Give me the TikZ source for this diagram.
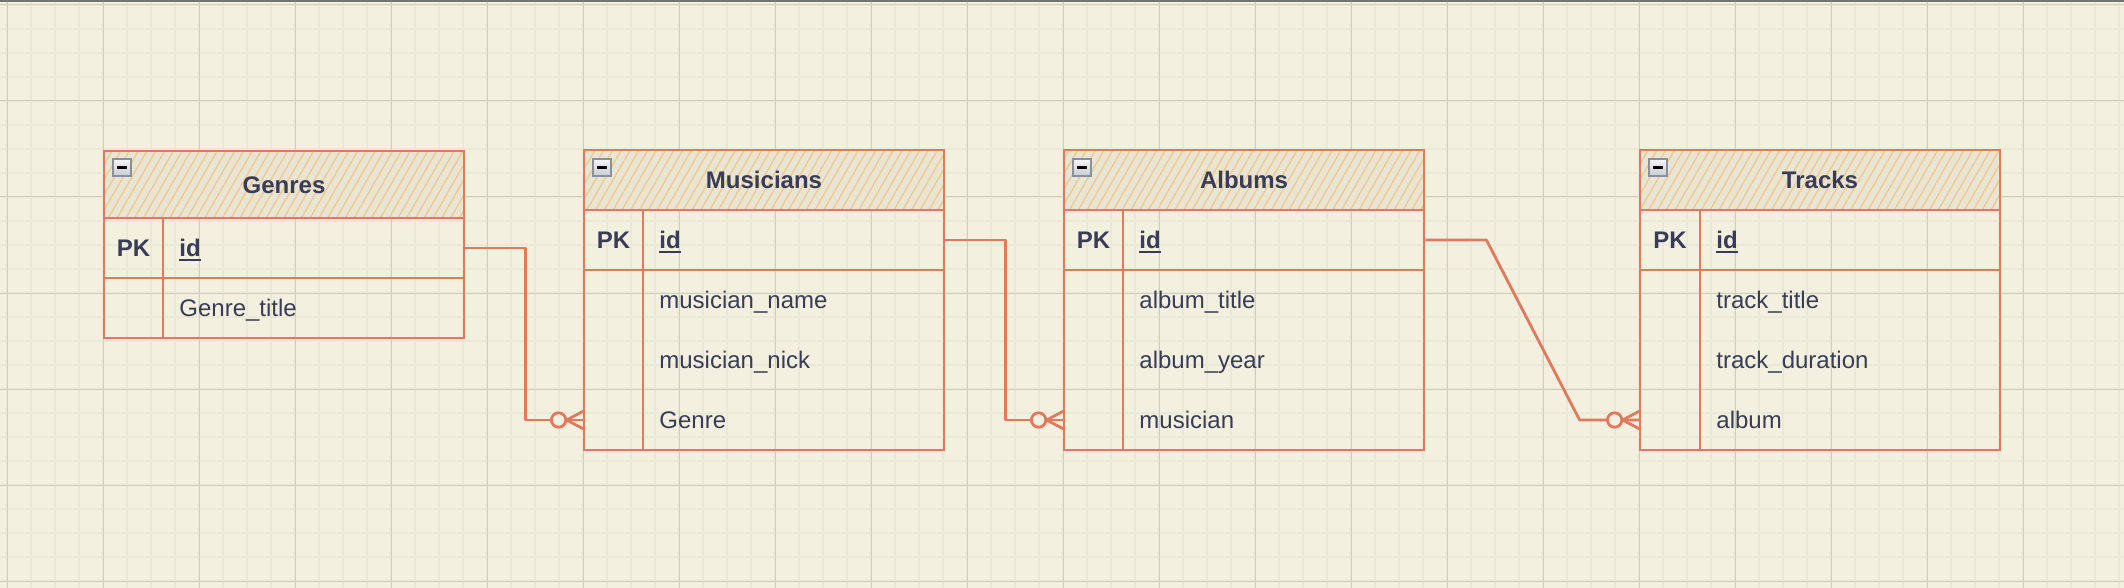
\documentclass[tikz,border=0pt]{standalone}
\usepackage{fontspec}
\setmainfont{Liberation Sans}
\usetikzlibrary{patterns.meta,calc}
\definecolor{bgc}{HTML}{F3F0E0}
\definecolor{gminor}{HTML}{EAE8D6}
\definecolor{gmajor}{HTML}{D2CEBE}
\definecolor{ecol}{HTML}{E07A5F}
\definecolor{hatch}{HTML}{F0C98A}
\definecolor{hdrfill}{HTML}{E8E5D5}
\definecolor{txt}{HTML}{393C56}
\definecolor{topbar}{HTML}{73766F}
\definecolor{iconb}{HTML}{8A8F9E}
\newcommand\ulid[1]{\setbox0\hbox{#1}\rlap{\rule[-2.2pt]{\wd0}{1pt}}\box0}
\newcommand\crowfoot[1]{%
  \draw[conn] ($(#1.west)+(-17,0)$) -- ($(#1.west)+(0,-9)$);
  \draw[conn] ($(#1.west)+(-17,0)$) -- (#1.west);
  \draw[conn] ($(#1.west)+(-17,0)$) -- ($(#1.west)+(0,9)$);
  \draw[conn,fill=bgc] ($(#1.west)+(-25,0)$) circle[radius=3.6pt];}
\begin{document}
\begin{tikzpicture}[x=0.5pt,y=-0.5pt,
  font=\fontsize{12}{14}\selectfont,
  hdr/.style={preaction={fill=hdrfill},
    preaction={pattern={Lines[angle=60,distance=3.8pt,line width=0.65pt]},pattern color=hatch},
    draw=ecol, line width=1.4pt, minimum width=180pt, inner sep=0pt},
  rowbox/.style={draw=ecol, line width=1.4pt, minimum width=180pt, inner sep=0pt},
  rowtgt/.style={minimum width=180pt, minimum height=30pt, inner sep=0pt},
  tline/.style={draw=ecol, line width=1.4pt},
  conn/.style={draw=ecol, line width=1.4pt, line join=round},
  ttl/.style={font=\fontsize{12}{14}\selectfont\bfseries, text=txt, inner sep=0pt, anchor=base},
  pk/.style={font=\fontsize{12}{14}\selectfont\bfseries, text=txt, inner sep=0pt, anchor=base},
  fld/.style={text=txt, inner sep=0pt, anchor=base west},
  icon/.style={draw=iconb, line width=0.7pt, top color=white!92!iconb, bottom color=white!55!iconb,
    minimum width=9pt, minimum height=8.5pt, inner sep=0pt, text=black},
]
\useasboundingbox (0,0) rectangle (2124,588);
% background grid
\fill[bgc] (0,0) rectangle (2124,588);
\foreach \i in {0,...,88} \draw[gminor, line width=0.8pt] ({7+24*\i},0) -- ({7+24*\i},588);
\foreach \i in {0,...,24} \draw[gminor, line width=0.8pt] (0,{5+24*\i}) -- (2124,{5+24*\i});
\foreach \i in {0,...,21} \draw[gmajor, line width=0.5pt] ({7+96*\i},0) -- ({7+96*\i},588);
\foreach \i in {0,...,6} \draw[gmajor, line width=0.5pt] (0,{5+96*\i}) -- (2124,{5+96*\i});
\fill[topbar] (0,0) rectangle (2124,1.6);

% ---------- Genres ----------
\node[hdr, minimum height=33.5pt] (g-head) at (284,184.5) {};
\node[ttl] (g-title) at (284,193.1) {Genres};
\node[icon] (g-icon) at (122,167.5) {\rule{5pt}{1.1pt}};
\node[rowbox, minimum height=30pt] (g-id) at (284,248) {};
\node[rowbox, minimum height=30pt] (g-rest) at (284,308) {};
\draw[tline] (163,218) -- (163,338);
\node[pk] (g-pk) at (133.5,256.6) {PK};
\node[fld] (g-f0) at (179,256.6) {\bfseries\ulid{id}};
\node[fld] (g-f1) at (179,316.6) {Genre\_title};

% ---------- Musicians ----------
\node[hdr, minimum height=30pt] (m-head) at (764,180) {};
\node[ttl] (m-title) at (764,188.6) {Musicians};
\node[icon] (m-icon) at (602,167.5) {\rule{5pt}{1.1pt}};
\node[rowbox, minimum height=30pt] (m-id) at (764,240) {};
\node[rowbox, minimum height=90pt] (m-rest) at (764,360) {};
\draw[tline] (643,210) -- (643,450);
\node[pk] (m-pk) at (613.5,248.6) {PK};
\node[fld] (m-f0) at (659,248.6) {\bfseries\ulid{id}};
\node[fld] (m-f1) at (659,308.6) {musician\_name};
\node[fld] (m-f2) at (659,368.6) {musician\_nick};
\node[fld] (m-f3) at (659,428.6) {Genre};
\node[rowtgt] (m-genre) at (764,420) {};

% ---------- Albums ----------
\node[hdr, minimum height=30pt] (a-head) at (1244,180) {};
\node[ttl] (a-title) at (1244,188.6) {Albums};
\node[icon] (a-icon) at (1082,167.5) {\rule{5pt}{1.1pt}};
\node[rowbox, minimum height=30pt] (a-id) at (1244,240) {};
\node[rowbox, minimum height=90pt] (a-rest) at (1244,360) {};
\draw[tline] (1123,210) -- (1123,450);
\node[pk] (a-pk) at (1093.5,248.6) {PK};
\node[fld] (a-f0) at (1139,248.6) {\bfseries\ulid{id}};
\node[fld] (a-f1) at (1139,308.6) {album\_title};
\node[fld] (a-f2) at (1139,368.6) {album\_year};
\node[fld] (a-f3) at (1139,428.6) {musician};
\node[rowtgt] (a-musician) at (1244,420) {};

% ---------- Tracks ----------
\node[hdr, minimum height=30pt] (t-head) at (1820,180) {};
\node[ttl] (t-title) at (1820,188.6) {Tracks};
\node[icon] (t-icon) at (1658,167.5) {\rule{5pt}{1.1pt}};
\node[rowbox, minimum height=30pt] (t-id) at (1820,240) {};
\node[rowbox, minimum height=90pt] (t-rest) at (1820,360) {};
\draw[tline] (1700,210) -- (1700,450);
\node[pk] (t-pk) at (1670,248.6) {PK};
\node[fld] (t-f0) at (1716,248.6) {\bfseries\ulid{id}};
\node[fld] (t-f1) at (1716,308.6) {track\_title};
\node[fld] (t-f2) at (1716,368.6) {track\_duration};
\node[fld] (t-f3) at (1716,428.6) {album};
\node[rowtgt] (t-album) at (1820,420) {};

% ---------- connectors ----------
\draw[conn] (g-id.east) -- ++(60,0) |- (m-genre.west);
\draw[conn] (m-id.east) -- ++(60,0) |- (a-musician.west);
\draw[conn] (a-id.east) -- ++(61,0) -- ($(t-album.west)+(-60,0)$) -- (t-album.west);
\crowfoot{m-genre}
\crowfoot{a-musician}
\crowfoot{t-album}
\end{tikzpicture}
\end{document}
